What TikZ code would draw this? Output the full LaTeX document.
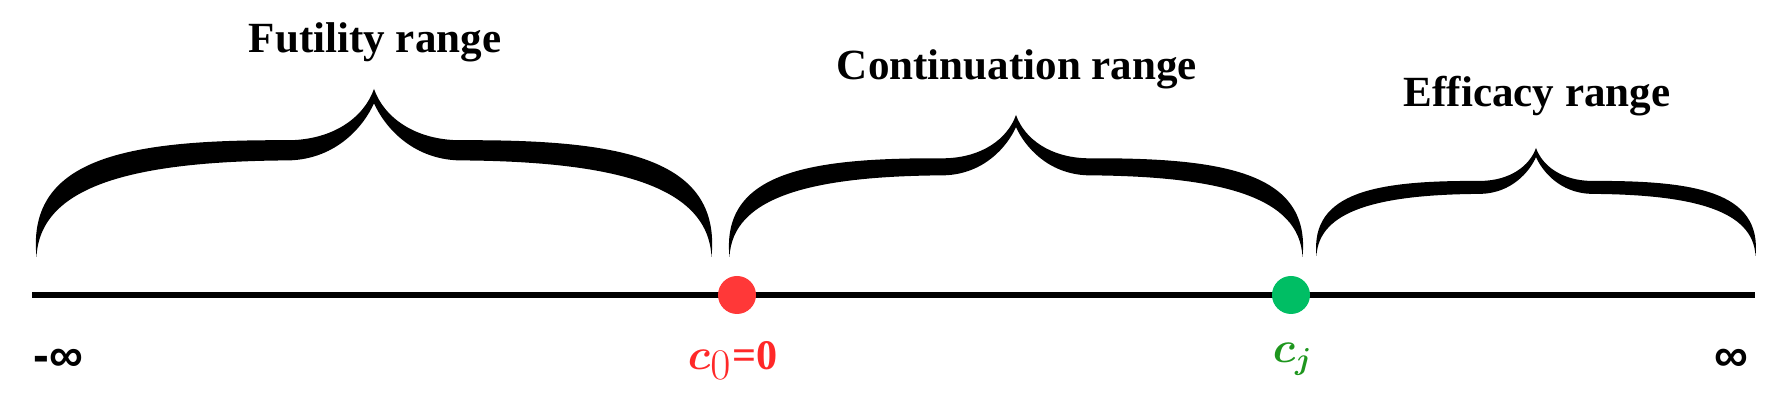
\documentclass[tikz,border=0pt]{standalone}
\usepackage[no-math]{fontspec}
\setmainfont{Liberation Serif}
\newfontfamily\infsans{Liberation Sans}
\definecolor{dotred}{RGB}{255,56,56}
\definecolor{txtred}{RGB}{255,40,40}
\definecolor{dotgreen}{RGB}{0,190,100}
\definecolor{txtgreen}{RGB}{30,150,30}
\tikzset{
  rangelabel/.style={anchor=base,inner sep=0pt,font=\fontsize{24.5}{28}\selectfont\bfseries},
  cutdot/.style={circle,inner sep=0pt,minimum size=0.76cm},
}

\begin{document}
\begin{tikzpicture}[line width=0.8pt]
\useasboundingbox (0,0) rectangle (35.72,8.18);
% 数轴
\coordinate (axl) at (0.64,2.28);
\coordinate (axr) at (35.10,2.28);
\draw[line width=0.12cm] (axl) -- (axr);
% 两个分界点
\node[cutdot,fill=dotred] (c0) at (14.74,2.28) {};
\node[cutdot,fill=dotgreen] (cj) at (25.82,2.28) {};
% 轴下方标注
\node[inner sep=0pt,font=\infsans\bfseries\fontsize{27}{30}\selectfont] (minf) at (1.17,0.98) {-∞};
\node[inner sep=0pt,font=\infsans\bfseries\fontsize{27}{30}\selectfont] (pinf) at (34.63,0.98) {∞};
\node[anchor=base,inner sep=0pt,text=txtred] (c0lab) at (14.65,0.78)
  {\fontsize{29}{32}\selectfont{\boldmath$c$}\fontsize{24}{26}\selectfont\raisebox{-5.5pt}{$0$}\kern1pt\bfseries =0};
\node[anchor=base,inner sep=0pt,text=txtgreen,font=\fontsize{25}{28}\selectfont\boldmath] (cjlab) at (25.85,0.92) {$c_j$};
% 三个大括号（单位形状按宽高缩放）
\foreach \xt/\yb/\bw/\bh in {7.48/3.04/6.75/3.36,20.32/3.04/5.73/2.84,30.72/3.06/4.39/2.16}{
  \fill[shift={(\xt,\yb)},xscale=\bw,yscale=\bh]
    (-1,0) .. controls (-1.03,0.6) and (-0.72,0.70) .. (-0.25,0.695)
    .. controls (-0.12,0.70) and (-0.03,0.83) .. (0,1)
    .. controls (0.03,0.83) and (0.12,0.70) .. (0.25,0.695)
    .. controls (0.72,0.70) and (1.03,0.6) .. (1,0)
    .. controls (0.99,0.42) and (0.72,0.57) .. (0.25,0.575)
    .. controls (0.11,0.585) and (0.03,0.78) .. (0,0.915)
    .. controls (-0.03,0.78) and (-0.11,0.585) .. (-0.25,0.575)
    .. controls (-0.72,0.57) and (-0.99,0.42) .. (-1,0) -- cycle;
}
% 区间名称
\node[rangelabel] (futl) at (7.50,7.12) {Futility range};
\node[rangelabel] (contl) at (20.34,6.58) {Continuation range};
\node[rangelabel] (effl) at (30.74,6.04) {Efficacy range};
\end{tikzpicture}
\end{document}
